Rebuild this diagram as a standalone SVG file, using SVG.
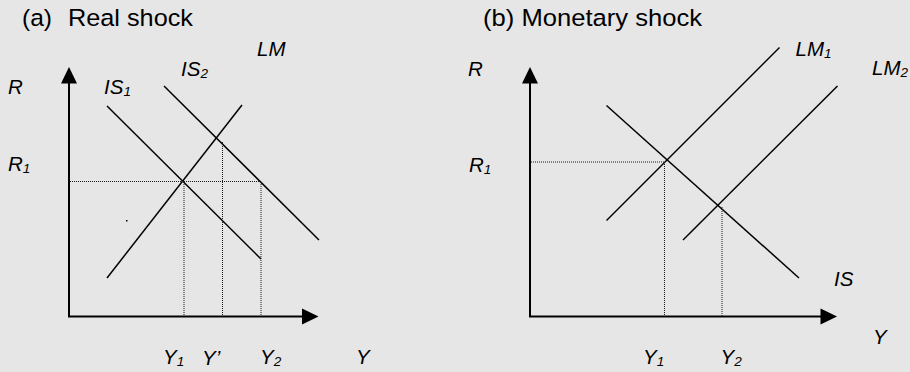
<svg xmlns="http://www.w3.org/2000/svg" width="910" height="372" viewBox="0 0 910 372">
<defs>
<style>
.t{font-family:"Liberation Sans",Arial,sans-serif;fill:#000}
.title{font-size:24.5px}
.lab{font-size:20.5px;font-style:italic}
.sub{font-size:13.5px}
.axis{stroke:#000;stroke-width:2;fill:none}
.curve{stroke:#000;stroke-width:1.5;fill:none}
.dot{stroke:#1a1a1a;stroke-width:1;stroke-dasharray:1 1;fill:none}
.head{fill:#000}
</style>
</defs>
<rect width="910" height="372" fill="#e6e6e6"/>

<g id="panel-a">
  <text class="t title" x="22" y="26">(a)</text>
  <text class="t title" x="68" y="26" textLength="125" lengthAdjust="spacingAndGlyphs">Real shock</text>
  <g id="a-axes">
    <path class="axis" d="M69,83 V316.5 H302"/>
    <polygon class="head" points="69,67 61,83.5 77,83.5"/>
    <polygon class="head" points="318.5,316.5 302,308.5 302,324.5"/>
  </g>
  <g id="a-curves">
    <line class="curve" x1="107" y1="106" x2="261" y2="259"/>
    <line class="curve" x1="164" y1="86" x2="319" y2="240"/>
    <line class="curve" x1="107" y1="278" x2="242" y2="105"/>
  </g>
  <g id="a-guides">
    <line class="dot" x1="70" y1="181.5" x2="261" y2="181.5"/>
    <line class="dot" x1="184" y1="182" x2="184" y2="316"/>
    <line class="dot" x1="222.5" y1="142" x2="222.5" y2="316"/>
    <line class="dot" x1="261" y1="182" x2="261" y2="316"/>
  </g>
  <rect x="126" y="220" width="1.5" height="1.5" fill="#000"/>
  <g id="a-labels">
    <text class="t lab" x="8" y="94">R</text>
    <text class="t lab" x="8" y="171">R<tspan class="sub" dy="2">1</tspan></text>
    <text class="t lab" x="104" y="94">IS<tspan class="sub" dy="2">1</tspan></text>
    <text class="t lab" x="181" y="75.5">IS<tspan class="sub" dy="2">2</tspan></text>
    <text class="t lab" x="257" y="56">LM</text>
    <text class="t lab" x="163" y="364">Y<tspan class="sub" dy="2">1</tspan></text>
    <text class="t lab" x="202" y="364.5" font-size="22">Y’</text>
    <text class="t lab" x="260" y="364">Y<tspan class="sub" dy="2">2</tspan></text>
    <text class="t lab" x="356" y="364">Y</text>
  </g>
</g>

<g id="panel-b">
  <text class="t title" x="483" y="26" textLength="219" lengthAdjust="spacingAndGlyphs">(b) Monetary shock</text>
  <g id="b-axes">
    <path class="axis" d="M530,83 V316.5 H821"/>
    <polygon class="head" points="530,67 522,83.5 538,83.5"/>
    <polygon class="head" points="837,316.5 820.5,308.5 820.5,324.5"/>
  </g>
  <g id="b-curves">
    <line class="curve" x1="606.5" y1="105.5" x2="799" y2="278"/>
    <line class="curve" x1="606.5" y1="220.5" x2="779.5" y2="47.5"/>
    <line class="curve" x1="683" y1="240" x2="837.5" y2="86"/>
  </g>
  <g id="b-guides">
    <line class="dot" x1="531" y1="162" x2="665" y2="162"/>
    <line class="dot" x1="664.5" y1="162" x2="664.5" y2="316"/>
    <line class="dot" x1="722" y1="207" x2="722" y2="316"/>
  </g>
  <g id="b-labels">
    <text class="t lab" x="468" y="76">R</text>
    <text class="t lab" x="469" y="171.5">R<tspan class="sub" dy="2">1</tspan></text>
    <text class="t lab" x="795.5" y="56">LM<tspan class="sub" dy="2">1</tspan></text>
    <text class="t lab" x="872" y="75">LM<tspan class="sub" dy="2">2</tspan></text>
    <text class="t lab" x="834" y="286">IS</text>
    <text class="t lab" x="643" y="364">Y<tspan class="sub" dy="2">1</tspan></text>
    <text class="t lab" x="720.5" y="364">Y<tspan class="sub" dy="2">2</tspan></text>
    <text class="t lab" x="873" y="343.5">Y</text>
  </g>
</g>
</svg>
